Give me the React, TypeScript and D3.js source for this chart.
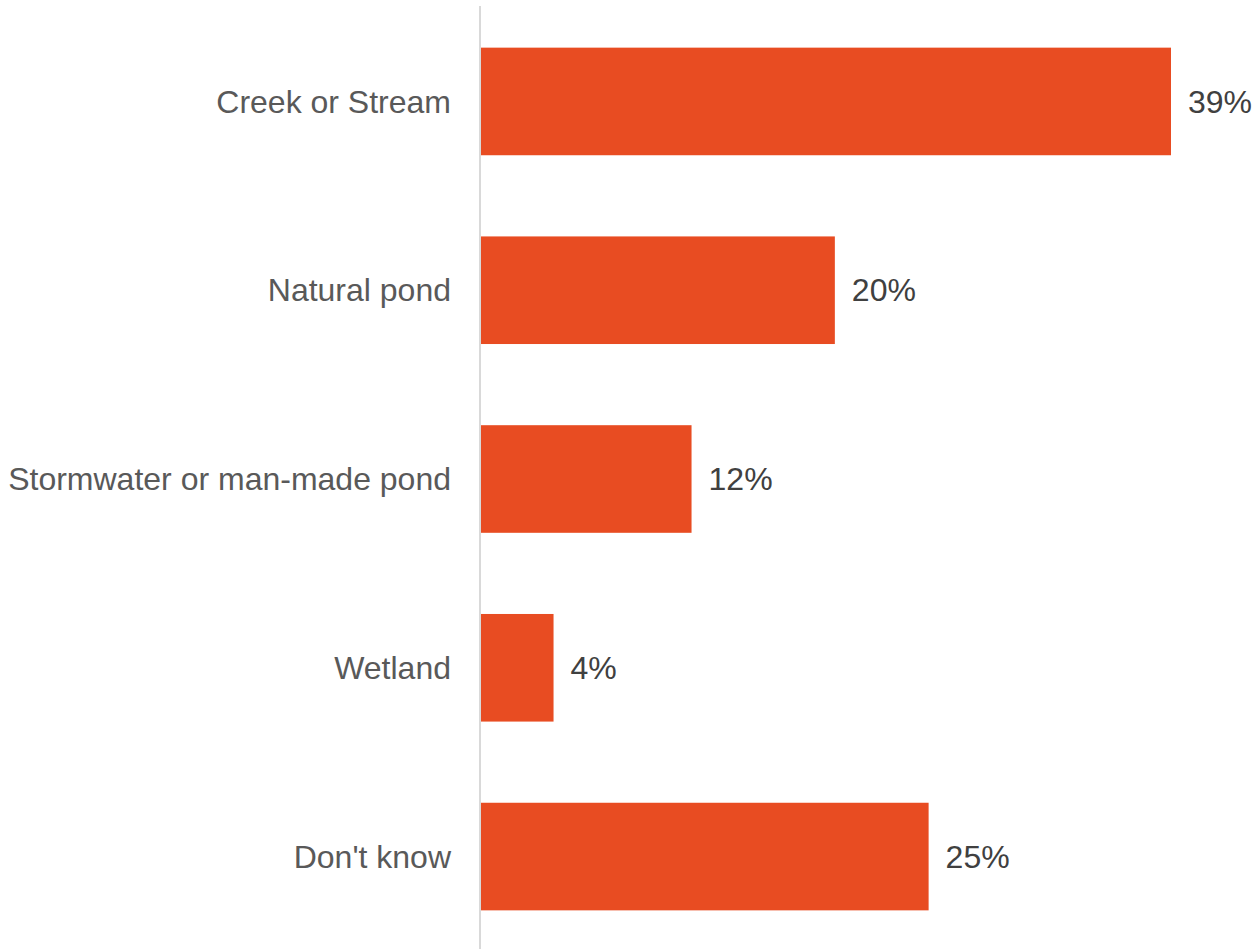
import { useRef, useEffect } from "react";
import * as d3 from "d3";

// categories and values (percent)
const categories = [
  "Creek or Stream",
  "Natural pond",
  "Stormwater or man-made pond",
  "Wetland",
  "Don't know",
];
const values = [39, 20, 11.9, 4.1, 25.3];

const width = 1256;
const height = 949;

const App = () => {
  const svgRef = useRef<SVGSVGElement | null>(null);

  useEffect(() => {
    if (!svgRef.current) return;
    const svg = d3.select(svgRef.current);
    svg.selectAll("*").remove();

    const x0 = 481;
    const xScale = d3.scaleLinear().domain([0, 39]).range([x0, 1171]);
    const yScale = d3
      .scaleBand<string>()
      .domain(categories)
      .range([8, 950])
      .paddingInner(0.43)
      .paddingOuter(0.21);

    const data = categories.map((c, i) => ({ cat: c, val: values[i] }));

    // Bars
    svg
      .selectAll("rect.bar")
      .data(data)
      .enter()
      .append("rect")
      .attr("class", "bar")
      .attr("x", xScale(0))
      .attr("y", (d) => yScale(d.cat)!)
      .attr("width", (d) => xScale(d.val) - xScale(0))
      .attr("height", yScale.bandwidth())
      .style("fill", "#E84C22");

    // Axis line
    svg
      .append("line")
      .attr("x1", x0 - 1)
      .attr("x2", x0 - 1)
      .attr("y1", 6)
      .attr("y2", height)
      .style("stroke", "#d9d9d9")
      .style("stroke-width", 2);

    // Category labels
    svg
      .selectAll("text.cat")
      .data(data)
      .enter()
      .append("text")
      .attr("class", "cat")
      .attr("x", x0 - 30)
      .attr("y", (d) => yScale(d.cat)! + yScale.bandwidth() / 2)
      .attr("dy", "0.35em")
      .attr("text-anchor", "end")
      .text((d) => d.cat)
      .style("font-family", "'Liberation Sans', Arial, sans-serif")
      .style("font-size", "32px")
      .style("fill", "#595959");

    // Value labels
    svg
      .selectAll("text.val")
      .data(data)
      .enter()
      .append("text")
      .attr("class", "val")
      .attr("x", (d) => xScale(d.val) + 17)
      .attr("y", (d) => yScale(d.cat)! + yScale.bandwidth() / 2)
      .attr("dy", "0.35em")
      .text((d) => `${Math.round(d.val)}%`)
      .style("font-family", "'Liberation Sans', Arial, sans-serif")
      .style("font-size", "32px")
      .style("fill", "#404040");
  }, []);

  return (
    <svg
      ref={svgRef}
      width={width}
      height={height}
      style={{ position: "absolute", left: 0, top: 0, background: "#fff" }}
    ></svg>
  );
};

export default App;
